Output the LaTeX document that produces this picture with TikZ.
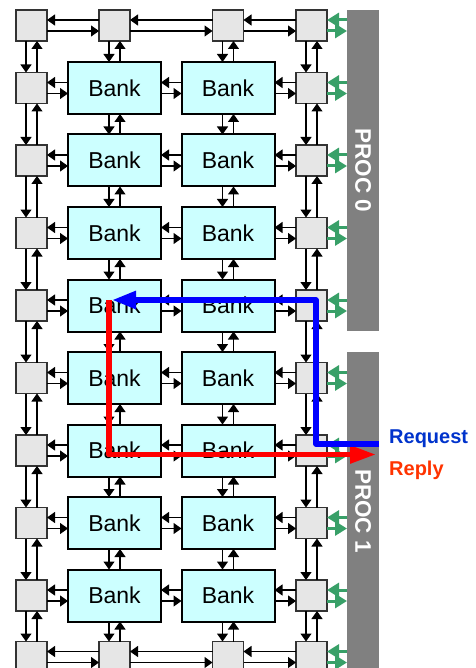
\documentclass[tikz,border=0pt]{standalone}
\usepackage{fontspec}
\setmainfont{Liberation Sans}
\usetikzlibrary{arrows.meta,calc}
\definecolor{bankfill}{RGB}{204,255,255}
\definecolor{sqfill}{RGB}{230,230,230}
\definecolor{procgray}{RGB}{128,128,128}
\definecolor{linkgreen}{RGB}{56,160,104}
\definecolor{reqblue}{RGB}{0,51,204}
\definecolor{replyred}{RGB}{255,51,0}
\begin{document}
\begin{tikzpicture}[x=1pt,y=-1pt,
  router/.style={draw=black!80, line width=1.3pt, fill=sqfill, minimum size=31pt, inner sep=0pt, outer sep=0pt},
  bank/.style={draw=black, line width=2pt, fill=bankfill, minimum width=93pt, minimum height=52pt, inner sep=0pt, outer sep=0pt, font=\fontsize{23}{26}\selectfont},
  link/.style={draw=black, line width=1.2pt, -{Triangle[length=8pt,width=11pt]}},
  plink/.style={draw=linkgreen, line width=3pt, -{Triangle[length=12pt,width=14pt]}},
  proc/.style={fill=procgray, text=white, font=\bfseries\fontsize{22.5}{24}\selectfont, rotate=-90, inner sep=0pt, outer sep=0pt, minimum height=32pt},
  reqpath/.style={draw=blue, line width=5.5pt, line join=round, -{Triangle[length=24pt,width=17pt]}},
  reppath/.style={draw=red, line width=5.5pt, line join=round, -{Triangle[length=26pt,width=17pt]}},
  lbl/.style={anchor=base west, inner sep=0pt, font=\bfseries\fontsize{20}{24}\selectfont}
]
\useasboundingbox (0,0) rectangle (475,668);
\def\rowY{{25.5,88,160.5,233,305.5,378,450.5,523,595.5,657}}
\def\colX{{31.5,114.5,228,311.5}}
% nodes
\foreach \r in {0,...,9}{
  \foreach \c in {0,...,3}{
    \pgfmathsetmacro\yy{\rowY[\r]}
    \pgfmathsetmacro\xx{\colX[\c]}
    \pgfmathtruncatemacro\isbank{and(and(\r>0,\r<9),and(\c>0,\c<3))}
    \ifnum\isbank=1
      \node[bank] (n\r\c) at (\xx,\yy) {Bank};
    \else
      \node[router] (n\r\c) at (\xx,\yy) {};
    \fi
  }
}
% horizontal links
\foreach \r in {0,...,9}{
  \foreach \c/\d in {0/1,1/2,2/3}{
    \draw[link] ([yshift=5.5pt]n\r\d.west) -- ([yshift=5.5pt]n\r\c.east);
    \draw[link] ([yshift=-5.5pt]n\r\c.east) -- ([yshift=-5.5pt]n\r\d.west);
  }
}
% vertical links
\foreach \r in {0,...,8}{
  \pgfmathtruncatemacro\s{\r+1}
  \foreach \c in {0,...,3}{
    \draw[link] ([xshift=-5.5pt]n\r\c.south) -- ([xshift=-5.5pt]n\s\c.north);
    \draw[link] ([xshift=5.5pt]n\s\c.north) -- ([xshift=5.5pt]n\r\c.south);
  }
}
% processors
\node[proc, minimum width=321pt] (p0) at (363,170.5) {PROC 0};
\node[proc, minimum width=318pt] (p1) at (363,511) {PROC 1};
% green links
\foreach \r in {0,...,9}{
  \ifnum\r<5 \def\pb{p0}\else\def\pb{p1}\fi
  \coordinate (gu\r) at ([yshift=5.5pt]n\r3.east);
  \coordinate (gl\r) at ([yshift=-5.5pt]n\r3.east);
  \draw[plink] (gu\r -| \pb.south) -- (gu\r);
  \draw[plink] (gl\r) -- (gl\r -| \pb.south);
}
% request / reply paths
\coordinate (repStart) at (109,300);
\coordinate (repEnd) at (376,454.5);
\coordinate (reqStart) at (379,444);
\coordinate (reqB1) at (316,444);
\coordinate (reqB2) at (316,300);
\coordinate (reqEnd) at (112,300);
\draw[reppath] (repStart) |- (repEnd);
\draw[reqpath] (reqStart) -- (reqB1) -- (reqB2) -- (reqEnd);
\node[lbl, text=reqblue] (req) at (389,443.3) {Request};
\node[lbl, text=replyred] (rep) at (389,475) {Reply};
\end{tikzpicture}
\end{document}
